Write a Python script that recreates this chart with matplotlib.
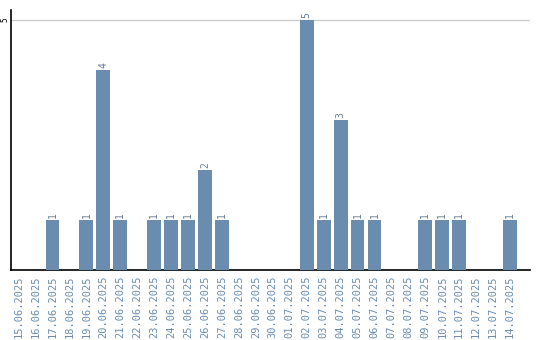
import matplotlib
matplotlib.use("Agg")
import matplotlib.pyplot as plt

dates = ["15.06.2025", "16.06.2025", "17.06.2025", "18.06.2025", "19.06.2025",
         "20.06.2025", "21.06.2025", "22.06.2025", "23.06.2025", "24.06.2025",
         "25.06.2025", "26.06.2025", "27.06.2025", "28.06.2025", "29.06.2025",
         "30.06.2025", "01.07.2025", "02.07.2025", "03.07.2025", "04.07.2025",
         "05.07.2025", "06.07.2025", "07.07.2025", "08.07.2025", "09.07.2025",
         "10.07.2025", "11.07.2025", "12.07.2025", "13.07.2025", "14.07.2025"]
counts = [0, 0, 1, 0, 1, 4, 1, 0, 1, 1, 1, 2, 1, 0, 0,
          0, 0, 5, 1, 3, 1, 1, 0, 0, 1, 1, 1, 0, 0, 1]
y_ticks = [5]

bar_color = "#6a8caf"
label_color = "#6a8caf"

fig = plt.figure(figsize=(5.4, 3.4), dpi=100)
ax = fig.add_axes([11/540, 70/340, 519/540, 260/340])

x = list(range(len(dates)))
ax.bar(x, counts, width=0.82, color=bar_color, zorder=3)
for xi, v in zip(x, counts):
    if v > 0:
        ax.text(xi, v + 0.04, str(v), rotation=90, ha="center", va="bottom",
                fontsize=7, color="#6b7f95", family="DejaVu Sans Mono")

ax.set_xlim(-0.45, 30.18)
ax.set_ylim(0, 5.2)
ax.set_yticks(y_ticks)
ax.set_yticklabels([str(t) for t in y_ticks], rotation=90, va="center",
                   fontsize=5.5, family="DejaVu Sans Mono")
ax.yaxis.grid(True, color="#cccccc", linewidth=1, zorder=0)
ax.tick_params(axis="y", length=0, pad=1)
ax.set_xticks(x)
ax.set_xticklabels(dates, rotation=90, fontsize=7.5, color=label_color,
                   family="DejaVu Sans Mono")
ax.tick_params(axis="x", length=0, pad=4)

for s in ["top", "right"]:
    ax.spines[s].set_visible(False)
ax.spines["left"].set_color("black")
ax.spines["bottom"].set_color("black")
ax.spines["left"].set_linewidth(1.2)
ax.spines["bottom"].set_linewidth(1.2)

fig.savefig("out.png", dpi=100)
